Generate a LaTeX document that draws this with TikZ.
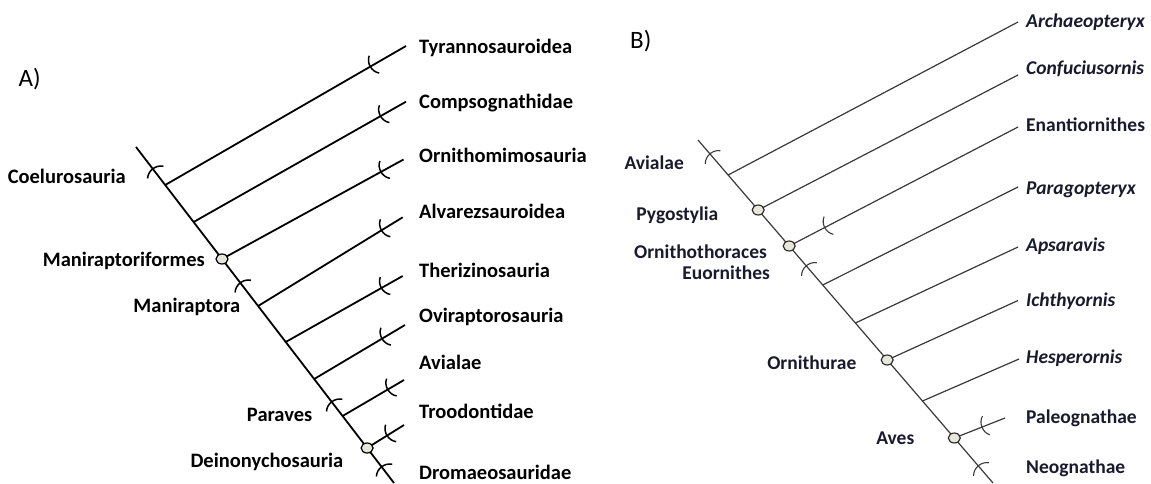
\documentclass[tikz,border=0pt]{standalone}
\usepackage{fontspec}
\setmainfont{Carlito}
\usetikzlibrary{calc,shapes.geometric}
\definecolor{dotfill}{HTML}{E6E6DA}
\definecolor{lineBcol}{HTML}{3A3A3A}
\definecolor{textB}{HTML}{1A1A2E}
\tikzset{
  tickmark/.pic={\draw (3,-10) .. controls (-3,-5) and (-3,5) .. (3,10);},
  lineA/.style={line width=1.8pt,draw=black},
  lineB/.style={line width=1.2pt,draw=lineBcol},
  tickA/.style={line width=1.5pt,draw=black},
  tickB/.style={line width=1.1pt,draw=lineBcol},
  dotA/.style={ellipse,draw=black,line width=1.2pt,fill=dotfill,minimum width=12pt,minimum height=10pt,inner sep=0pt},
  dotB/.style={ellipse,draw=black!85,line width=1.1pt,fill=dotfill,minimum width=12pt,minimum height=10pt,inner sep=0pt},
  labA/.style={font=\fontsize{20.5}{24}\selectfont\bfseries,inner sep=0pt,text=black},
  labB/.style={font=\fontsize{19.5}{22}\selectfont\bfseries,inner sep=0pt,text=textB},
  labBi/.style={font=\fontsize{19.5}{22}\selectfont\bfseries\itshape,inner sep=0pt,text=textB},
  panel/.style={font=\fontsize{25}{28}\selectfont,inner sep=0pt,text=black},
}
\begin{document}
\begin{tikzpicture}[x=1pt,y=1pt]
\useasboundingbox (0,0) rectangle (1151,483);
\fill[white] (0,0) rectangle (1151,483);

% ================= Panel A =================
\node[panel,anchor=base west] (pA) at (18.5,396) {A)};
\coordinate (TA) at (136,336);
\coordinate (BA) at (394,0);
% branch points on trunk
\coordinate (aTyr) at (165.2,298);
\coordinate (aComp) at (193.6,261);
\coordinate (aOrn) at (222.0,224);
\coordinate (aAlv) at (258.1,177);
\coordinate (aThe) at (285.7,141);
\coordinate (aOvi) at (314.2,104);
\coordinate (aAvi) at (342.6,67);
\coordinate (aDei) at (367.1,35);
% tips
\coordinate (tTyr) at (406,437);
\coordinate (tComp) at (406,381.3);
\coordinate (tOrn) at (403.5,323.5);
\coordinate (tAlv) at (402.7,265.7);
\coordinate (tThe) at (402.7,207);
\coordinate (tOvi) at (405,158);
\coordinate (tAvi) at (404,103);
\coordinate (tTro) at (404,58);

\draw[lineA] (TA) -- (BA);
\draw[lineA] (aTyr) -- (tTyr);
\draw[lineA] (aComp) -- (tComp);
\draw[lineA] (aOrn) -- (tOrn);
\draw[lineA] (aAlv) -- (tAlv);
\draw[lineA] (aThe) -- (tThe);
\draw[lineA] (aOvi) -- (tOvi);
\draw[lineA] (aAvi) -- (tAvi);
\draw[lineA] (aDei) -- (tTro);

% ticks on trunk
\pic[tickA,rotate=-52.5] at (153.7,313) {tickmark};
\pic[tickA,rotate=-52.5] at (241.2,199) {tickmark};
\pic[tickA,rotate=-52.5] at (332.6,80) {tickmark};
\pic[tickA,rotate=-52.5] at (382.5,15) {tickmark};
% ticks on branches
\pic[tickA,rotate=30] at ($(aTyr)!0.857!(tTyr)$) {tickmark};
\pic[tickA,rotate=30] at ($(aComp)!0.886!(tComp)$) {tickmark};
\pic[tickA,rotate=30] at ($(aOrn)!0.883!(tOrn)$) {tickmark};
\pic[tickA,rotate=30] at ($(aAlv)!0.862!(tAlv)$) {tickmark};
\pic[tickA,rotate=30] at ($(aThe)!0.829!(tThe)$) {tickmark};
\pic[tickA,rotate=30] at ($(aOvi)!0.761!(tOvi)$) {tickmark};
\pic[tickA,rotate=30] at ($(aAvi)!0.756!(tAvi)$) {tickmark};
\pic[tickA,rotate=32] at ($(aDei)!0.575!(tTro)$) {tickmark};

\node[dotA] (cManif) at (aOrn) {};
\node[dotA] (cDein) at (aDei) {};

% labels right
\node[labA,anchor=base west] (lTyr) at (419,429.8) {Tyrannosauroidea};
\node[labA,anchor=base west] (lComp) at (419,374.8) {Compsognathidae};
\node[labA,anchor=base west] (lOrn) at (419,320.5) {Ornithomimosauria};
\node[labA,anchor=base west] (lAlv) at (419,264.2) {Alvarezsauroidea};
\node[labA,anchor=base west] (lThe) at (419,205.8) {Therizinosauria};
\node[labA,anchor=base west] (lOvi) at (419,160.5) {Oviraptorosauria};
\node[labA,anchor=base west] (lAvi) at (419,113.2) {Avialae};
\node[labA,anchor=base west] (lTro) at (419,64.8) {Troodontidae};
\node[labA,anchor=base west] (lDro) at (419,4) {Dromaeosauridae};
% labels left
\node[labA,anchor=base east] (lCoel) at (126,299.8) {Coelurosauria};
\node[labA,anchor=base east] (lManif) at (205,216.5) {Maniraptoriformes};
\node[labA,anchor=base east] (lManir) at (240.5,171) {Maniraptora};
\node[labA,anchor=base east] (lPar) at (312.5,61.5) {Paraves};
\node[labA,anchor=base east] (lDein) at (343.5,16) {Deinonychosauria};

% ================= Panel B =================
\node[panel,anchor=base west] (pB) at (630,434) {B)};
\coordinate (TB) at (698,343);
\coordinate (BB) at (993,0);
\coordinate (bArch) at (728.1,308);
\coordinate (bPyg) at (758.2,273);
\coordinate (bOrnth) at (789.2,237);
\coordinate (bParag) at (822.7,198);
\coordinate (bAps) at (855.4,160);
\coordinate (bOrnu) at (887.2,123);
\coordinate (bHesp) at (922.5,82);
\coordinate (bAves) at (954.3,45);
\coordinate (tArch) at (1018,461);
\coordinate (tConf) at (1018,408);
\coordinate (tEnan) at (1018,356);
\coordinate (tParag) at (1018,296);
\coordinate (tAps) at (1018,236);
\coordinate (tIch) at (1018,182.5);
\coordinate (tHesp) at (1019,124);
\coordinate (tPaleo) at (1005,65);

\draw[lineB] (TB) -- (BB);
\draw[lineB] (bArch) -- (tArch);
\draw[lineB] (bPyg) -- (tConf);
\draw[lineB] (bOrnth) -- (tEnan);
\draw[lineB] (bParag) -- (tParag);
\draw[lineB] (bAps) -- (tAps);
\draw[lineB] (bOrnu) -- (tIch);
\draw[lineB] (bHesp) -- (tHesp);
\draw[lineB] (bAves) -- (tPaleo);

\pic[tickB,rotate=-49.3] at (710.9,328) {tickmark};
\pic[tickB,rotate=-49.3] at (807.2,216) {tickmark};
\pic[tickB,rotate=-49.3] at (979.2,16) {tickmark};
\pic[tickB,rotate=27.5] at ($(bOrnth)!0.161!(tEnan)$) {tickmark};
\pic[tickB,rotate=21.5] at ($(bAves)!0.572!(tPaleo)$) {tickmark};

\node[dotB] (cPyg) at (bPyg) {};
\node[dotB] (cOrnth) at (bOrnth) {};
\node[dotB] (cOrnu) at (bOrnu) {};
\node[dotB] (cAves) at (bAves) {};

\node[labBi,anchor=base west] (lArch) at (1026,455.3) {Archaeopteryx};
\node[labBi,anchor=base west] (lConf) at (1026,408.7) {Confuciusornis};
\node[labB,anchor=base west] (lEnan) at (1026,352) {Enantiornithes};
\node[labBi,anchor=base west] (lParag) at (1026,288.7) {Paragopteryx};
\node[labBi,anchor=base west] (lAps) at (1026,232) {Apsaravis};
\node[labBi,anchor=base west] (lIch) at (1026,177) {Ichthyornis};
\node[labBi,anchor=base west] (lHesp) at (1026,119.3) {Hesperornis};
\node[labB,anchor=base west] (lPaleo) at (1026,59.7) {Paleognathae};
\node[labB,anchor=base west] (lNeo) at (1026,9.7) {Neognathae};

\node[labB,anchor=base east] (lAvB) at (684,313.7) {Avialae};
\node[labB,anchor=base east] (lPyg) at (718.5,263) {Pygostylia};
\node[labB,anchor=base east] (lOrnth) at (767,225) {Ornithothoraces};
\node[labB,anchor=base east] (lEuor) at (770,203.7) {Euornithes};
\node[labB,anchor=base east] (lOrnu) at (856.5,113.7) {Ornithurae};
\node[labB,anchor=base east] (lAves) at (914.5,38.7) {Aves};
\end{tikzpicture}
\end{document}
